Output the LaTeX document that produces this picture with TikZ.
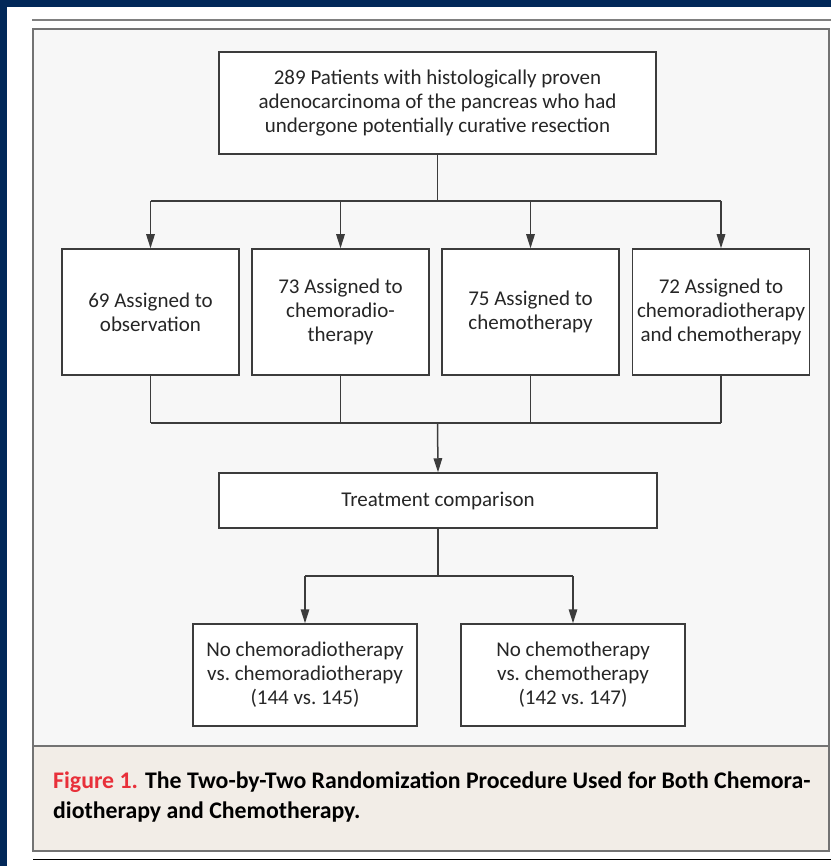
\documentclass[tikz,border=0pt]{standalone}
\usepackage{fontspec}
\setmainfont{Carlito}
\usetikzlibrary{arrows.meta}
\definecolor{navy}{RGB}{1,40,89}
\definecolor{panelgray}{RGB}{247,247,247}
\definecolor{capbg}{RGB}{242,237,231}
\definecolor{linegray}{RGB}{60,60,60}
\definecolor{figred}{RGB}{232,48,58}

\begin{document}
\begin{tikzpicture}[x=1pt,y=-1pt,
  box/.style={draw=linegray,line width=1.5pt,fill=white,align=center,inner sep=2pt,
    text=black!85,font=\fontsize{21}{24}\selectfont},
  conn/.style={draw=linegray,line width=1.5pt},
  arr/.style={conn,-{Triangle[length=14pt,width=8.5pt]}}]
% frame and panel
\fill[navy] (0,0) rectangle (831,866);
\fill[white] (7,7) rectangle (831,866);
\draw[gray,line width=2pt] (32,20) -- (831,20);
\fill[panelgray] (33,29) rectangle (829,746);
\fill[capbg] (33,746) rectangle (829,851);
\draw[gray!90!black,line width=2pt] (33,29) rectangle (829,851);
\draw[gray!90!black,line width=1.6pt] (33,746) -- (829,746);
\draw[black,line width=1pt] (33,859) -- (831,859);
% boxes
\node[box,minimum width=437pt,minimum height=102pt] (pat) at (437.5,103)
  {289 Patients with histologically proven\\adenocarcinoma of the pancreas who had\\undergone potentially curative resection};
\node[box,minimum width=177pt,minimum height=126pt] (obs) at (150.5,312)
  {69 Assigned to\\observation};
\node[box,minimum width=177pt,minimum height=126pt] (crt) at (340.5,312)
  {73 Assigned to\\chemoradio-\\therapy};
\node[box,minimum width=177pt,minimum height=126pt] (ct) at (530.5,312)
  {75 Assigned to\\chemotherapy};
\node[box,minimum width=177pt,minimum height=126pt] (both) at (721,312)
  {72 Assigned to\\chemoradiotherapy\\and chemotherapy};
\node[box,minimum width=438pt,minimum height=55pt] (cmp) at (438,500.5)
  {Treatment comparison};
\node[box,minimum width=224pt,minimum height=102pt] (crtvs) at (305,675)
  {No chemoradiotherapy\\vs.\ chemoradiotherapy\\(144 vs.\ 145)};
\node[box,minimum width=224pt,minimum height=102pt] (ctvs) at (573,675)
  {No chemotherapy\\vs.\ chemotherapy\\(142 vs.\ 147)};
% connectors
\coordinate (fork) at (pat.south |- 0,201);
\coordinate (merge) at (pat.south |- 0,423);
\coordinate (split) at (cmp.south |- 0,576);
\draw[conn] (pat.south) -- (fork);
\draw[conn] (fork -| obs) -- (fork -| both);
\foreach \n in {obs,crt,ct,both}
    \draw[arr] (fork -| \n) -- (\n.north);
\foreach \n in {obs,crt,ct,both}
    \draw[conn] (\n.south) -- (merge -| \n);
\draw[conn] (merge -| obs) -- (merge -| both);
\draw[arr] (merge) -- (cmp.north);
\draw[conn] (cmp.south) -- (split);
\draw[conn] (split -| crtvs) -- (split -| ctvs);
\draw[arr] (split -| crtvs) -- (crtvs.north);
\draw[arr] (split -| ctvs) -- (ctvs.north);
% caption
\node[anchor=north west,align=left,inner sep=0pt,font=\bfseries\fontsize{23.8}{30}\selectfont] (cap) at (53,772)
  {\textcolor{figred}{Figure 1.} The Two-by-Two Randomization Procedure Used for Both Chemora-\\diotherapy and Chemotherapy.};
\end{tikzpicture}
\end{document}
